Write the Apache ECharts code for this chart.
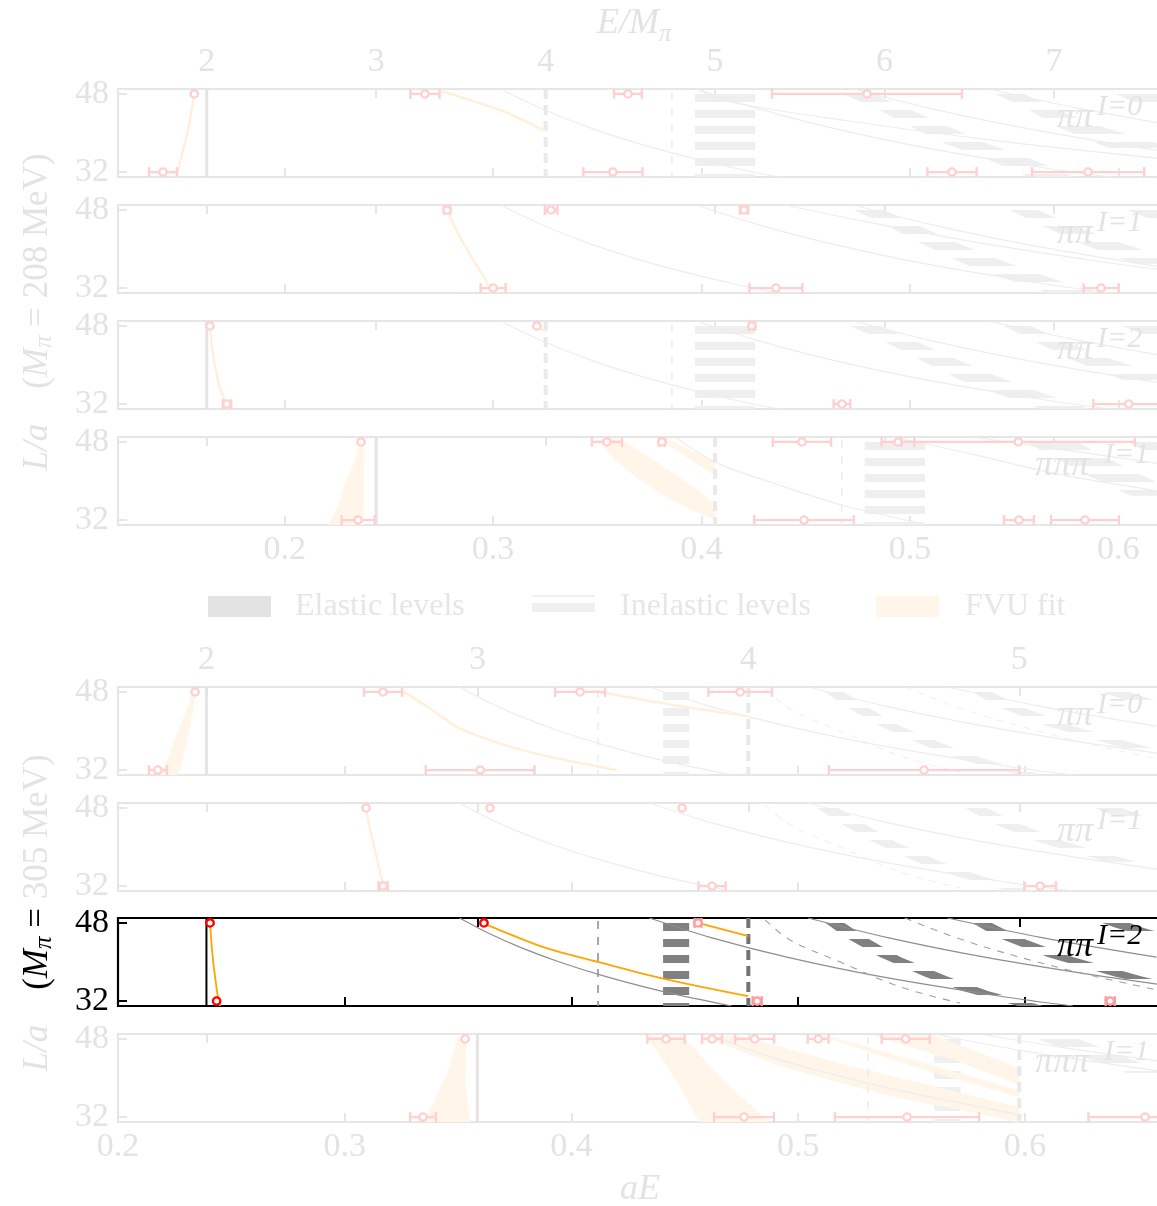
<!DOCTYPE html>
<html>
<head>
<meta charset="utf-8">
<title>Finite-volume spectra</title>
<script src="https://cdn.jsdelivr.net/npm/echarts@6/dist/echarts.min.js"></script>
<style>
html, body { margin: 0; padding: 0; background: #ffffff; }
#chart { width: 1157px; height: 1206px; }
</style>
</head>
<body>
<div id="chart"></div>
<script>
// ---- ensemble constants ---------------------------------------------------
const AM_208 = 0.0813;              // a*M_pi on the 208 MeV ensemble
const AM_305 = 0.1195;              // a*M_pi on the 305 MeV ensemble
const L_MIN = 31, L_MAX = 49;
const L_TICKS = [32, 48];
const AE_RANGE_208 = [0.12, 0.62];
const AE_RANGE_305 = [0.20, 0.66];
const AE_TICKS = [0.2, 0.3, 0.4, 0.5, 0.6];
const EM_TICKS_208 = [2, 3, 4, 5, 6, 7];
const EM_TICKS_305 = [2, 3, 4, 5];

// ---- M_pi = 208 MeV, pi pi I=0 ---------------------------------------------
// thresholds in aE, levels as [aE, L], bands as [L, aE_lo, aE_hi], points as [aE, L, err]
const A0_THR = [0.1626];
const A0_THICK = [0.3252];
const A0_THIN = [0.3858];
const A0_BARS = [[0.3969, 0.4257]];
const A0_ELASTIC = [
  [[49, 0.462, 0.476], [45, 0.484, 0.499], [41, 0.502, 0.520], [38, 0.516, 0.536], [34.7, 0.537, 0.558], [31, 0.557, 0.579]],
  [[49, 0.536, 0.550], [45, 0.556, 0.569], [41, 0.572, 0.594], [37, 0.595, 0.625]],
  [[49, 0.593, 0.612], [45, 0.615, 0.635]]
];
const A0_FITBANDS = [];
const A0_FITLINES = [
  [[0.1566, 48], [0.1555, 45], [0.1538, 41], [0.1515, 37], [0.1492, 33], [0.1478, 31]],
  [[0.2745, 48.7], [0.2905, 46.5], [0.3033, 44.7], [0.3150, 42.5], [0.3252, 40.4]]
];
const A0_CURVES = [
  [[0.3037, 49], [0.3232, 45], [0.3470, 41], [0.3766, 37], [0.4141, 33], [0.4368, 31]],
  [[0.3975, 49], [0.4271, 45], [0.4630, 41], [0.5071, 37], [0.5626, 33], [0.5959, 31]],
  [[0.4730, 49], [0.5103, 45], [0.5552, 41], [0.6103, 37], [0.6428, 35]],
  [[0.5381, 49], [0.5817, 45], [0.6342, 41]],
  [[0.3980, 49], [0.4122, 46.5], [0.4700, 42.5], [0.5400, 38.5], [0.6200, 34.8]]
];
const A0_DASHCURVES = [];
const A0_POINTS = [
  [0.1566, 48, 0.0012], [0.1416, 32, 0.0067], [0.2673, 48, 0.0070], [0.3647, 48, 0.0067],
  [0.3575, 32, 0.0142], [0.4794, 48, 0.0456], [0.5202, 32, 0.0118], [0.5855, 32, 0.0269]
];

// ---- M_pi = 208 MeV, pi pi I=1 ---------------------------------------------
const A1_THR = [];
const A1_THICK = [];
const A1_THIN = [];
const A1_BARS = [];
const A1_ELASTIC = [
  [[49, 0.468, 0.482], [45, 0.488, 0.503], [41, 0.506, 0.524], [37, 0.526, 0.548], [33, 0.552, 0.575], [31, 0.566, 0.590]],
  [[49, 0.543, 0.556], [45, 0.562, 0.577], [41, 0.583, 0.603], [37, 0.608, 0.632]],
  [[49, 0.598, 0.616], [45, 0.622, 0.642]]
];
const A1_FITBANDS = [];
const A1_FITLINES = [
  [[0.2779, 48], [0.2810, 45], [0.2860, 41], [0.2915, 37], [0.2960, 34], [0.2995, 31]]
];
const A1_CURVES = [
  [[0.3037, 49], [0.3232, 45], [0.3470, 41], [0.3766, 37], [0.4141, 33], [0.4368, 31]],
  [[0.3975, 49], [0.4271, 45], [0.4630, 41], [0.5071, 37], [0.5626, 33], [0.5959, 31]],
  [[0.4730, 49], [0.5103, 45], [0.5552, 41], [0.6103, 37], [0.6428, 35]],
  [[0.4400, 49], [0.4800, 45.5], [0.5300, 41.5], [0.5900, 37.5], [0.6200, 35.8]]
];
const A1_DASHCURVES = [];
const A1_POINTS = [
  [0.2779, 48, 0.0015], [0.3000, 32, 0.0060], [0.3278, 48, 0.0030], [0.4204, 48, 0.0020],
  [0.4357, 32, 0.0127], [0.5917, 32, 0.0084]
];

// ---- M_pi = 208 MeV, pi pi I=2 ---------------------------------------------
const A2_THR = [0.1626];
const A2_THICK = [0.3252];
const A2_THIN = [0.3858];
const A2_BARS = [[0.3969, 0.4257]];
const A2_ELASTIC = [
  [[49, 0.466, 0.480], [45, 0.487, 0.502], [41, 0.505, 0.523], [37, 0.524, 0.546], [33, 0.549, 0.572], [31, 0.563, 0.586]],
  [[49, 0.540, 0.553], [45, 0.559, 0.573], [41, 0.578, 0.598], [37, 0.602, 0.627]],
  [[49, 0.596, 0.614], [45, 0.619, 0.638]]
];
const A2_FITBANDS = [];
const A2_FITLINES = [
  [[0.1641, 48], [0.1650, 44], [0.1665, 40], [0.1685, 36], [0.1710, 33], [0.1730, 31]],
  [[0.3210, 48], [0.3252, 46.8]]
];
const A2_CURVES = [
  [[0.3037, 49], [0.3232, 45], [0.3470, 41], [0.3766, 37], [0.4141, 33], [0.4368, 31]],
  [[0.3975, 49], [0.4271, 45], [0.4630, 41], [0.5071, 37], [0.5626, 33], [0.5959, 31]],
  [[0.4730, 49], [0.5103, 45], [0.5552, 41], [0.6103, 37], [0.6428, 35]],
  [[0.5381, 49], [0.5817, 45], [0.6342, 41]]
];
const A2_DASHCURVES = [];
const A2_POINTS = [
  [0.1641, 48, 0.0012], [0.1723, 32, 0.0020], [0.3210, 48, 0.0012], [0.4242, 48, 0.0015],
  [0.4674, 32, 0.0040], [0.6050, 32, 0.0170]
];

// ---- M_pi = 208 MeV, pi pi pi I=1 ------------------------------------------
const A3_THR = [0.2439];
const A3_THICK = [0.4065];
const A3_THIN = [0.4673];
const A3_BARS = [[0.4783, 0.5072]];
const A3_ELASTIC = [
  [[49, 0.552, 0.576], [45, 0.568, 0.593], [41, 0.586, 0.612], [37, 0.606, 0.632]],
  [[49, 0.600, 0.622], [45, 0.618, 0.640]]
];
const A3_FITBANDS = [
  [[0.2366, 48.2], [0.2382, 48.2], [0.2382, 44], [0.2382, 40], [0.2380, 36], [0.2378, 33], [0.2376, 31],
   [0.2208, 31], [0.2235, 33], [0.2265, 36], [0.2292, 40], [0.2335, 44]],
  [[0.3514, 48.6], [0.3614, 48.6], [0.3786, 43.8], [0.3990, 38.0], [0.4065, 35.2], [0.4065, 32.3],
   [0.4041, 32.4], [0.3853, 36.1], [0.3683, 40.8], [0.3555, 45.5]],
  [[0.3790, 48.6], [0.3840, 48.6], [0.4065, 43.8], [0.4065, 41.0], [0.3960, 44.0], [0.3850, 47.0]]
];
const A3_FITLINES = [];
const A3_CURVES = [
  [[0.3873, 49], [0.4074, 43.7], [0.4350, 39.5], [0.4674, 35.1], [0.5048, 31.4]],
  [[0.4915, 49], [0.5300, 45.5], [0.5700, 41.5], [0.6186, 38]],
  [[0.5300, 49], [0.5800, 46], [0.6200, 43.5]]
];
const A3_DASHCURVES = [];
const A3_POINTS = [
  [0.2366, 48, 0.0012], [0.2352, 32, 0.0079], [0.3546, 48, 0.0072], [0.3810, 48, 0.0015],
  [0.4482, 48, 0.0140], [0.4943, 48, 0.0079], [0.5520, 48, 0.0560],
  [0.4492, 32, 0.0239], [0.5523, 32, 0.0072], [0.5840, 32, 0.0163]
];

// ---- M_pi = 305 MeV, pi pi I=0 ---------------------------------------------
const B0_THR = [0.2390];
const B0_THICK = [0.4780];
const B0_THIN = [0.4117];
const B0_BARS = [[0.4404, 0.4519]];
const B0_ELASTIC = [
  [[49, 0.509, 0.517], [45, 0.521, 0.530], [41, 0.536, 0.545], [37, 0.556, 0.566], [34, 0.573, 0.584], [31, 0.597, 0.608]],
  [[49, 0.573, 0.581], [45, 0.588, 0.598], [41, 0.610, 0.621], [37, 0.640, 0.652], [34, 0.668, 0.680]],
  [[49, 0.628, 0.640], [47, 0.640, 0.652], [45, 0.655, 0.667]]
];
const B0_FITBANDS = [
  [[0.2331, 48.2], [0.2349, 48.2], [0.2330, 44], [0.2315, 40], [0.2290, 35], [0.2265, 31],
   [0.2185, 31], [0.2225, 35], [0.2265, 40], [0.2300, 44]]
];
const B0_FITLINES = [
  [[0.3253, 48.2], [0.3380, 44.5], [0.3504, 40.6], [0.3750, 36.5], [0.3976, 34.0], [0.4200, 32.0]],
  [[0.4090, 48.3], [0.4300, 46.5], [0.4560, 44.5], [0.4780, 43.0]]
];
const B0_CURVES = [
  [[0.3506, 49], [0.3630, 46], [0.3775, 43], [0.3947, 40], [0.4153, 37], [0.4401, 34], [0.4706, 31]],
  [[0.4344, 49], [0.4616, 45], [0.4950, 41], [0.5365, 37], [0.5892, 33], [0.6211, 31]],
  [[0.5044, 49], [0.5395, 45], [0.5822, 41], [0.6350, 37], [0.6662, 35]],
  [[0.5659, 49], [0.6075, 45], [0.6580, 41]]
];
const B0_DASHCURVES = [
  [[0.4854, 48.6], [0.4964, 44.5], [0.5185, 40], [0.5450, 34.9], [0.5714, 31.6]],
  [[0.5470, 49], [0.5714, 44.7], [0.5992, 40.8], [0.6288, 37.3], [0.6580, 34.3]]
];
const B0_POINTS = [
  [0.2340, 48, 0.0012], [0.2176, 32, 0.0040], [0.3169, 48, 0.0084], [0.4038, 48, 0.0110],
  [0.4744, 48, 0.0140], [0.3597, 32, 0.0240], [0.5555, 32, 0.0420]
];

// ---- M_pi = 305 MeV, pi pi I=1 ---------------------------------------------
const B1_THR = [];
const B1_THICK = [];
const B1_THIN = [];
const B1_BARS = [];
const B1_ELASTIC = [
  [[49, 0.505, 0.514], [45, 0.518, 0.528], [41, 0.533, 0.543], [37, 0.552, 0.563], [34, 0.570, 0.581], [31, 0.592, 0.604]],
  [[49, 0.570, 0.579], [45, 0.585, 0.596], [41, 0.606, 0.618], [37, 0.636, 0.649]],
  [[49, 0.625, 0.637], [46, 0.642, 0.654]]
];
const B1_FITBANDS = [];
const B1_FITLINES = [
  [[0.3094, 48], [0.3110, 44], [0.3130, 40], [0.3150, 36], [0.3165, 33], [0.3175, 31]]
];
const B1_CURVES = [
  [[0.3506, 49], [0.3630, 46], [0.3775, 43], [0.3947, 40], [0.4153, 37], [0.4401, 34], [0.4706, 31]],
  [[0.4344, 49], [0.4616, 45], [0.4950, 41], [0.5365, 37], [0.5892, 33], [0.6211, 31]],
  [[0.5044, 49], [0.5395, 45], [0.5822, 41], [0.6350, 37], [0.6662, 35]]
];
const B1_DASHCURVES = [
  [[0.4854, 48.6], [0.4964, 44.5], [0.5185, 40], [0.5450, 34.9], [0.5714, 31.6]]
];
const B1_POINTS = [
  [0.3094, 48, 0.0012], [0.3169, 32, 0.0020], [0.3641, 48, 0.0012], [0.4488, 48, 0.0012],
  [0.4620, 32, 0.0060], [0.6067, 32, 0.0070]
];

// ---- M_pi = 305 MeV, pi pi I=2 ---------------------------------------------
const B2_THR = [0.2390];
const B2_THICK = [0.4780];
const B2_THIN = [0.4117];
const B2_BARS = [[0.4404, 0.4519]];
const B2_ELASTIC = [
  [[49, 0.509, 0.517], [45, 0.521, 0.530], [41, 0.536, 0.545], [37, 0.556, 0.566], [34, 0.573, 0.584], [31, 0.597, 0.608]],
  [[49, 0.573, 0.581], [45, 0.588, 0.598], [41, 0.610, 0.621], [37, 0.640, 0.652], [34, 0.668, 0.680]],
  [[49, 0.628, 0.640], [47, 0.640, 0.652], [45, 0.655, 0.667]]
];
const B2_FITBANDS = [];
const B2_FITLINES = [
  [[0.2406, 48], [0.2412, 44], [0.2420, 40], [0.2431, 36], [0.2440, 33], [0.2450, 31]],
  [[0.3614, 48], [0.3632, 47.5], [0.3880, 43.0], [0.4126, 39.9], [0.4404, 36.6], [0.4779, 33.0]],
  [[0.4558, 48], [0.4780, 45.3]]
];
const B2_CURVES = [
  [[0.3506, 49], [0.3630, 46], [0.3775, 43], [0.3947, 40], [0.4153, 37], [0.4401, 34], [0.4706, 31]],
  [[0.4344, 49], [0.4616, 45], [0.4950, 41], [0.5365, 37], [0.5892, 33], [0.6211, 31]],
  [[0.5044, 49], [0.5395, 45], [0.5822, 41], [0.6350, 37], [0.6662, 35]],
  [[0.5659, 49], [0.6075, 45], [0.6580, 41]]
];
const B2_DASHCURVES = [
  [[0.4854, 48.6], [0.4964, 44.5], [0.5185, 40], [0.5450, 34.9], [0.5714, 31.6]],
  [[0.5470, 49], [0.5714, 44.7], [0.5992, 40.8], [0.6288, 37.3], [0.6580, 34.3]]
];
// fourth entry flags levels drawn lighter
const B2_POINTS = [
  [0.2406, 48, 0.0008, 0], [0.2435, 32, 0.0008, 0], [0.3614, 48, 0.0010, 0],
  [0.4558, 48, 0.0015, 1], [0.4819, 32, 0.0020, 1], [0.6376, 32, 0.0020, 1]
];

// ---- M_pi = 305 MeV, pi pi pi I=1 ------------------------------------------
const B3_THR = [0.3585];
const B3_THICK = [0.5975];
const B3_THIN = [0.5308];
const B3_BARS = [[0.5600, 0.5716]];
const B3_ELASTIC = [
  [[49, 0.600, 0.618], [45, 0.622, 0.640], [41, 0.645, 0.663]]
];
const B3_FITBANDS = [
  [[0.3500, 48.5], [0.3538, 48.5], [0.3531, 39], [0.3553, 31], [0.3345, 31], [0.3390, 34.7], [0.3451, 41]],
  [[0.4329, 48.6], [0.4492, 48.6], [0.4580, 44], [0.4700, 38], [0.4876, 31], [0.4563, 31], [0.4480, 38], [0.4400, 44]],
  [[0.4572, 48.6], [0.4753, 48.6], [0.5225, 42.5], [0.5692, 37.3], [0.5975, 34], [0.5975, 30.8],
   [0.5855, 32.2], [0.5382, 36.5], [0.4914, 42.5]],
  [[0.5096, 48.6], [0.5140, 48.6], [0.5975, 37.5], [0.5975, 36], [0.5500, 42.5]],
  [[0.5317, 48.8], [0.5600, 48.8], [0.5975, 42], [0.5975, 38.5], [0.5700, 43.5]]
];
const B3_FITLINES = [];
const B3_CURVES = [
  [[0.4600, 49], [0.4900, 44], [0.5300, 39], [0.5700, 35], [0.5975, 32.5]],
  [[0.5600, 49], [0.6000, 45.5], [0.6583, 41.5]],
  [[0.5800, 49], [0.6200, 46], [0.6583, 43.5]]
];
const B3_DASHCURVES = [];
const B3_POINTS = [
  [0.3531, 48, 0.0010], [0.3345, 32, 0.0057], [0.4417, 48, 0.0082], [0.4620, 48, 0.0044],
  [0.4808, 48, 0.0086], [0.5088, 48, 0.0046], [0.5474, 48, 0.0106],
  [0.4761, 32, 0.0132], [0.5480, 32, 0.0318], [0.6530, 32, 0.0250]
];

// ---- styling ---------------------------------------------------------------
const SERIF = "'Liberation Serif', 'DejaVu Serif', serif";
const FADED = {
  frame: '#e6e6e6', text: '#e3e3e3', thr: '#e4e4e4', thrW: 3, thick: '#e9e9e9', thin: '#ececec',
  elastic: '#efefef', curve: '#ededed', dash: '#f0f0f0', red: '#ffd0d0', redLight: '#ffe2e2',
  orangeLine: '#fff0db', orangeW: 2.5, orangeBand: '#fff5e8'
};
const STRONG = {
  frame: '#000000', text: '#000000', thr: '#000000', thrW: 2, thick: '#727272', thin: '#8c8c8c',
  elastic: '#808080', curve: '#8e8e8e', dash: '#a0a0a0', red: '#ff0000', redLight: '#ff9c9c',
  orangeLine: '#ffa500', orangeW: 1.8, orangeBand: '#ffd699'
};

const GROUP_208 = { am: AM_208, ae: AE_RANGE_208, em: EM_TICKS_208, right: -3 };
const GROUP_305 = { am: AM_305, ae: AE_RANGE_305, em: EM_TICKS_305, right: -4 };

function panel(top, group, style, label, iso, d, showTop, showBottom) {
  return { top, group, style, label, iso, showTop, showBottom,
    thr: d[0], thick: d[1], thin: d[2], bars: d[3], elastic: d[4], fitBands: d[5],
    fitLines: d[6], curves: d[7], dashCurves: d[8], points: d[9] };
}

const PANELS = [
  panel(89, GROUP_208, FADED, 'ππ', 'I=0',
    [A0_THR, A0_THICK, A0_THIN, A0_BARS, A0_ELASTIC, A0_FITBANDS, A0_FITLINES, A0_CURVES, A0_DASHCURVES, A0_POINTS], true, false),
  panel(205, GROUP_208, FADED, 'ππ', 'I=1',
    [A1_THR, A1_THICK, A1_THIN, A1_BARS, A1_ELASTIC, A1_FITBANDS, A1_FITLINES, A1_CURVES, A1_DASHCURVES, A1_POINTS], false, false),
  panel(321, GROUP_208, FADED, 'ππ', 'I=2',
    [A2_THR, A2_THICK, A2_THIN, A2_BARS, A2_ELASTIC, A2_FITBANDS, A2_FITLINES, A2_CURVES, A2_DASHCURVES, A2_POINTS], false, false),
  panel(437, GROUP_208, FADED, 'πππ', 'I=1',
    [A3_THR, A3_THICK, A3_THIN, A3_BARS, A3_ELASTIC, A3_FITBANDS, A3_FITLINES, A3_CURVES, A3_DASHCURVES, A3_POINTS], false, true),
  panel(687, GROUP_305, FADED, 'ππ', 'I=0',
    [B0_THR, B0_THICK, B0_THIN, B0_BARS, B0_ELASTIC, B0_FITBANDS, B0_FITLINES, B0_CURVES, B0_DASHCURVES, B0_POINTS], true, false),
  panel(803, GROUP_305, FADED, 'ππ', 'I=1',
    [B1_THR, B1_THICK, B1_THIN, B1_BARS, B1_ELASTIC, B1_FITBANDS, B1_FITLINES, B1_CURVES, B1_DASHCURVES, B1_POINTS], false, false),
  panel(918, GROUP_305, STRONG, 'ππ', 'I=2',
    [B2_THR, B2_THICK, B2_THIN, B2_BARS, B2_ELASTIC, B2_FITBANDS, B2_FITLINES, B2_CURVES, B2_DASHCURVES, B2_POINTS], false, false),
  panel(1034, GROUP_305, FADED, 'πππ', 'I=1',
    [B3_THR, B3_THICK, B3_THIN, B3_BARS, B3_ELASTIC, B3_FITBANDS, B3_FITLINES, B3_CURVES, B3_DASHCURVES, B3_POINTS], false, true)
];

const PANEL_H = 88;

// horizontal hatching used for the elastic levels
function hatch(color, offsetY) {
  const c = document.createElement('canvas');
  c.width = 8; c.height = 16;
  const ctx = c.getContext('2d');
  ctx.fillStyle = color;
  ctx.fillRect(0, 0, 8, 8);
  return { image: c, repeat: 'repeat', x: 0, y: offsetY % 16 };
}

function bandOutline(nodes) {
  const left = nodes.map(n => [n[1], n[0]]);
  const right = nodes.slice().reverse().map(n => [n[2], n[0]]);
  return left.concat(right);
}

function polygonRenderer(polys, fill) {
  return function (params, api) {
    const pts = polys[params.dataIndex].map(p => api.coord(p));
    return { type: 'polygon', shape: { points: pts }, style: { fill: fill } };
  };
}

function pointRenderer(st) {
  return function (params, api) {
    const x = api.value(0), L = api.value(1), err = api.value(2), light = api.value(3);
    const c = api.coord([x, L]);
    const lo = api.coord([x - err, L]);
    const hi = api.coord([x + err, L]);
    const col = light ? st.redLight : st.red;
    const kids = [];
    if (hi[0] - lo[0] > 6) {
      kids.push({ type: 'line', shape: { x1: lo[0], y1: c[1], x2: hi[0], y2: c[1] }, style: { stroke: col, lineWidth: 2.4 } });
      kids.push({ type: 'line', shape: { x1: lo[0], y1: c[1] - 5, x2: lo[0], y2: c[1] + 5 }, style: { stroke: col, lineWidth: 2.4 } });
      kids.push({ type: 'line', shape: { x1: hi[0], y1: c[1] - 5, x2: hi[0], y2: c[1] + 5 }, style: { stroke: col, lineWidth: 2.4 } });
    }
    kids.push({ type: 'circle', shape: { cx: c[0], cy: c[1], r: 3.7 }, style: { fill: '#ffffff', stroke: col, lineWidth: 2.4 } });
    return { type: 'group', children: kids };
  };
}

const grids = [], xAxes = [], yAxes = [], series = [], graphics = [];

PANELS.forEach((p, i) => {
  const g = p.group, st = p.style;
  grids.push({
    left: 118, right: g.right, top: p.top, height: PANEL_H,
    show: true, borderColor: st.frame, borderWidth: 2.2, backgroundColor: 'transparent',
    outerBoundsMode: 'none', containLabel: false
  });
  xAxes.push({
    type: 'value', gridIndex: i, position: 'bottom', min: g.ae[0], max: g.ae[1],
    axisLine: { show: false }, splitLine: { show: false },
    axisTick: { show: true, inside: true, length: 9, customValues: AE_TICKS, lineStyle: { color: st.frame, width: 2 } },
    axisLabel: { show: p.showBottom, customValues: AE_TICKS, formatter: v => v.toFixed(1),
      color: FADED.text, fontSize: 34, fontFamily: SERIF, margin: 8 }
  });
  xAxes.push({
    type: 'value', gridIndex: i, position: 'top', min: g.ae[0] / g.am, max: g.ae[1] / g.am,
    axisLine: { show: false }, splitLine: { show: false },
    axisTick: { show: true, inside: true, length: 9, customValues: g.em, lineStyle: { color: st.frame, width: 2 } },
    axisLabel: { show: p.showTop, customValues: g.em, formatter: v => String(v),
      color: FADED.text, fontSize: 34, fontFamily: SERIF, margin: 10 }
  });
  yAxes.push({
    type: 'value', gridIndex: i, min: L_MIN, max: L_MAX,
    axisLine: { show: false }, splitLine: { show: false },
    axisTick: { show: true, inside: true, length: 9, customValues: L_TICKS, lineStyle: { color: st.frame, width: 2 } },
    axisLabel: { show: true, customValues: L_TICKS, color: st.text, fontSize: 34, fontFamily: SERIF, margin: 9 }
  });

  const base = { xAxisIndex: 2 * i, yAxisIndex: i, silent: true, animation: false };

  // elastic levels (vertical bars and L-dependent bands), hatched
  const elasticPolys = p.bars.map(b => [[b[0], L_MIN], [b[1], L_MIN], [b[1], L_MAX], [b[0], L_MAX]])
    .concat(p.elastic.map(bandOutline));
  if (elasticPolys.length) {
    series.push(Object.assign({}, base, {
      type: 'custom', clip: true, z: 1, data: elasticPolys.map(pl => pl[0]),
      renderItem: polygonRenderer(elasticPolys, hatch(st.elastic, p.top + 5))
    }));
  }
  // finite-volume fit bands
  if (p.fitBands.length) {
    series.push(Object.assign({}, base, {
      type: 'custom', clip: true, z: 2, data: p.fitBands.map(pl => pl[0]),
      renderItem: polygonRenderer(p.fitBands, st.orangeBand)
    }));
  }
  // inelastic (non-interacting) levels
  p.curves.forEach(c => series.push(Object.assign({}, base, {
    type: 'line', data: c, smooth: 0.35, symbol: 'none', z: 3,
    lineStyle: { color: st.curve, width: 1.2 }
  })));
  p.dashCurves.forEach(c => series.push(Object.assign({}, base, {
    type: 'line', data: c, smooth: 0.35, symbol: 'none', z: 3,
    lineStyle: { color: st.dash, width: 1.1, type: [7, 7] }
  })));
  // thresholds
  p.thr.forEach(x => series.push(Object.assign({}, base, {
    type: 'line', data: [[x, L_MIN], [x, L_MAX]], symbol: 'none', z: 4,
    lineStyle: { color: st.thr, width: st.thrW }
  })));
  p.thin.forEach(x => series.push(Object.assign({}, base, {
    type: 'line', data: [[x, L_MIN], [x, L_MAX]], symbol: 'none', z: 4,
    lineStyle: { color: st.thin, width: 1.5, type: [8, 8], dashOffset: 3 }
  })));
  p.thick.forEach(x => series.push(Object.assign({}, base, {
    type: 'line', data: [[x, L_MIN], [x, L_MAX]], symbol: 'none', z: 4,
    lineStyle: { color: st.thick, width: 4, type: [10, 6], dashOffset: 2 }
  })));
  // fit curves
  p.fitLines.forEach(c => series.push(Object.assign({}, base, {
    type: 'line', data: c, smooth: 0.3, symbol: 'none', z: 5,
    lineStyle: { color: st.orangeLine, width: st.orangeW }
  })));
  // lattice levels with uncertainties
  series.push(Object.assign({}, base, {
    type: 'custom', clip: false, z: 6,
    data: p.points.map(q => [q[0], q[1], q[2], q[3] || 0]),
    renderItem: pointRenderer(st)
  }));

  // irrep label
  const lx = p.label.length === 3 ? 1035 : 1057;
  graphics.push({
    type: 'text', x: lx, y: p.top + 29, z: 50,
    style: { text: p.label, fontFamily: SERIF, fontStyle: 'italic', fontSize: 36, fill: st.text, verticalAlign: 'middle' }
  });
  graphics.push({
    type: 'text', x: lx + (p.label.length === 3 ? 69 : 40), y: p.top + 18, z: 50,
    style: { text: p.iso, fontFamily: SERIF, fontStyle: 'italic', fontSize: 30, fill: st.text, verticalAlign: 'middle' }
  });
});

// axis titles
graphics.push({ type: 'text', x: 628, y: 24, style: { text: 'E/M', fontFamily: SERIF, fontStyle: 'italic', fontSize: 36, fill: FADED.text, align: 'center', verticalAlign: 'middle' } });
graphics.push({ type: 'text', x: 659, y: 34, style: { text: 'π', fontFamily: SERIF, fontStyle: 'italic', fontSize: 25, fill: FADED.text, align: 'left', verticalAlign: 'middle' } });
graphics.push({ type: 'text', x: 640, y: 1190, style: { text: 'aE', fontFamily: SERIF, fontStyle: 'italic', fontSize: 36, fill: FADED.text, align: 'center', verticalAlign: 'middle' } });

function titleRich(col) {
  return {
    i: { fontFamily: SERIF, fontStyle: 'italic', fontSize: 35, fill: col },
    r: { fontFamily: SERIF, fontSize: 35, fill: col },
    s: { fontFamily: SERIF, fontStyle: 'italic', fontSize: 25, fill: col, padding: [12, 0, 0, 0] }
  };
}
const grey = titleRich(FADED.text), black = titleRich('#000000');
graphics.push({
  type: 'text', x: 38, y: 312, rotation: Math.PI / 2,
  style: { text: '{i|L/a}{r|    (}{i|M}{s|π}{r| = 208 MeV)}', rich: grey, align: 'center', verticalAlign: 'middle' }
});
graphics.push({
  type: 'text', x: 38, y: 913, rotation: Math.PI / 2,
  style: {
    text: '{i|L/a}{r|    }{kr|(}{ki|M}{ks|π}{kr| = }{r|305 MeV)}',
    rich: Object.assign({}, grey, { kr: black.r, ki: black.i, ks: black.s }),
    align: 'center', verticalAlign: 'middle'
  }
});

// legend
graphics.push({ type: 'rect', shape: { x: 208, y: 596, width: 63, height: 21 }, style: { fill: '#e3e3e3' } });
graphics.push({ type: 'text', x: 295, y: 607, style: { text: 'Elastic levels', fontFamily: SERIF, fontSize: 32, fill: '#e6e6e6', verticalAlign: 'middle' } });
graphics.push({ type: 'line', shape: { x1: 532, y1: 596, x2: 595, y2: 596 }, style: { stroke: '#ececec', lineWidth: 1.5 } });
graphics.push({ type: 'rect', shape: { x: 532, y: 603, width: 63, height: 9 }, style: { fill: '#f0f0f0' } });
graphics.push({ type: 'text', x: 620, y: 607, style: { text: 'Inelastic levels', fontFamily: SERIF, fontSize: 32, fill: '#e6e6e6', verticalAlign: 'middle' } });
graphics.push({ type: 'rect', shape: { x: 876, y: 596, width: 63, height: 21 }, style: { fill: '#fff5e8' } });
graphics.push({ type: 'text', x: 965, y: 607, style: { text: 'FVU fit', fontFamily: SERIF, fontSize: 32, fill: '#e6e6e6', verticalAlign: 'middle' } });

const chart = echarts.init(document.getElementById('chart'), null, { renderer: 'canvas' });
chart.setOption({
  animation: false,
  backgroundColor: '#ffffff',
  grid: grids,
  xAxis: xAxes,
  yAxis: yAxes,
  series: series,
  graphic: { elements: graphics }
});
</script>
</body>
</html>
